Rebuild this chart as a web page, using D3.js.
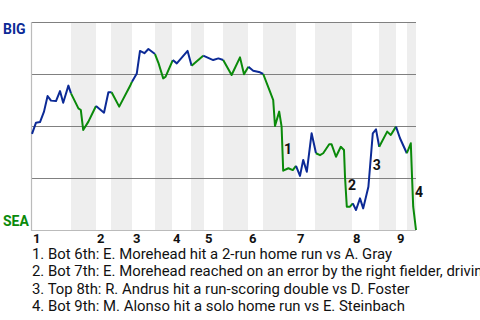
<!DOCTYPE html>
<html>
<head>
<meta charset="utf-8">
<script src="https://cdnjs.cloudflare.com/ajax/libs/d3/7.8.5/d3.min.js"></script>
<style>
  body { margin: 0; background: #fff; }
  svg { display: block; font-family: Roboto, sans-serif; }
</style>
</head>
<body>
<div id="chart"></div>
<script>
// play index (x) and BIG win probability in % (y)
var playX = [0, 1, 2, 3, 3.9, 4.75, 6, 7, 7.8, 9.1, 9.75, 11.6, 12.2, 12.8, 14.1, 16, 18, 19.1, 19.9,
    21.8, 24.5, 25, 26.2, 27, 28.1, 29.1, 30.75, 31.6, 32.8, 33.4, 35.2, 36.2, 38.9, 39.9, 42.8,
    45.3, 46.6, 47.8, 49.9, 52, 53, 54.1, 55.3, 57, 57.8, 59.5, 60.3, 60.75, 61.8, 62.4, 62.8,
    64.1, 65.2, 66, 67, 67.8, 68.7, 69.9, 71, 72, 72.8, 74.3, 74.9, 76, 77.2, 78, 78.25, 78.7,
    79.5, 80.2, 81, 82, 82.8, 84.1, 85.2, 86, 86.8, 88.8, 89.7, 91, 92, 93.7, 94.7, 95, 95.3, 96];
var winProb = [46.2, 51.6, 51.9, 56.9, 64.4, 62.2, 62, 66.8, 61.2, 69.4, 65.7, 58.5, 57.7, 48.1, 52.1, 59.6, 56.4, 66.2, 66.2,
    59.3, 69.2, 71.3, 75.3, 86.1, 85, 87, 84.6, 80.4, 72.9, 73.7, 81.7, 80.1, 86.1, 79, 83.8,
    81.7, 82.5, 81.7, 74.5, 83, 74.9, 78.5, 76.6, 75.8, 75, 66.5, 62.5, 50, 56.9, 49.7, 28.5,
    29.7, 28.8, 30.8, 26, 33.7, 28, 46.5, 36.9, 36, 36.9, 41.2, 41.2, 35.2, 40, 38.5, 25.6, 11.2,
    11.2, 12.8, 9.6, 15.2, 10.4, 20.8, 46.5, 48.4, 40, 47.3, 45.7, 49.7, 44.1, 36.9, 41.7, 26, 11.2, 0];

// start of each half inning (top 1, bot 1, top 2, ...) and end of game
var halfBounds = [0, 9.75, 16, 19.75, 25, 30.75, 35, 39.75, 43, 47.75, 54, 57.75, 66, 70.75, 80, 86.75, 91, 93.75, 96];
var innings = ["1", "2", "3", "4", "5", "6", "7", "8", "9"];
var probTicks = [25, 50, 75, 100];

var annoX = [63, 79, 85.2, 95.75];
var annoY = [38.9, 21.4, 31, 18.3];
var annoLabels = ["1", "2", "3", "4"];
var notes = [
    "1. Bot 6th: E. Morehead hit a 2-run home run vs A. Gray",
    "2. Bot 7th: E. Morehead reached on an error by the right fielder, driving in a run",
    "3. Top 8th: R. Andrus hit a run-scoring double vs D. Foster",
    "4. Bot 9th: M. Alonso hit a solo home run vs E. Steinbach"
];

var awayColor = "#0c2a96";
var homeColor = "#0a8a0a";

var width = 480, height = 320;
var svg = d3.select("#chart").append("svg")
    .attr("width", width)
    .attr("height", height);

var x = d3.scaleLinear().domain([0, 96]).range([32, 416]);
var y = d3.scaleLinear().domain([0, 100]).range([230, 22]);

// shaded bottom halves
for (var h = 1; h < halfBounds.length - 1; h += 2) {
    svg.append("rect")
        .attr("x", x(halfBounds[h]))
        .attr("y", y(100))
        .attr("width", x(halfBounds[h + 1]) - x(halfBounds[h]))
        .attr("height", y(0) - y(100))
        .style("fill", "#eeeeee");
}

// grid lines
svg.selectAll(".grid")
    .data(probTicks)
    .enter().append("line")
    .attr("x1", 31).attr("x2", x(96))
    .attr("y1", function(d) { return Math.round(y(d)) + 0.5; })
    .attr("y2", function(d) { return Math.round(y(d)) + 0.5; })
    .style("stroke", "#808080")
    .style("stroke-width", 1.2);

// left and bottom edges
svg.append("line")
    .attr("x1", 31.5).attr("x2", 31.5)
    .attr("y1", y(100)).attr("y2", y(0) + 1)
    .style("stroke", "#bbbbbb").style("stroke-width", 1.2);
svg.append("line")
    .attr("x1", 31).attr("x2", x(96))
    .attr("y1", y(0) + 0.5).attr("y2", y(0) + 0.5)
    .style("stroke", "#bbbbbb").style("stroke-width", 1.2);

// split the line into runs by which team is batting
var runs = [];
for (var i = 0; i < playX.length - 1; i++) {
    var mid = (playX[i] + playX[i + 1]) / 2;
    var half = d3.bisectRight(halfBounds, mid) - 1;
    var color = half % 2 === 0 ? awayColor : homeColor;
    var last = runs[runs.length - 1];
    if (last && last.color === color) {
        last.pts.push(i + 1);
    } else {
        runs.push({ color: color, pts: [i, i + 1] });
    }
}

var line = d3.line()
    .x(function(i) { return x(playX[i]); })
    .y(function(i) { return y(winProb[i]); });

runs.forEach(function(r) {
    svg.append("path")
        .attr("d", line(r.pts))
        .style("fill", "none")
        .style("stroke", r.color)
        .style("stroke-width", 2)
        .style("stroke-linejoin", "round");
});

// team labels
svg.append("text").text("BIG")
    .attr("x", 3).attr("y", 34)
    .style("font-size", "14px").style("font-weight", "bold")
    .style("fill", awayColor);
svg.append("text").text("SEA")
    .attr("x", 3).attr("y", 226)
    .style("font-size", "14px").style("font-weight", "bold")
    .style("fill", homeColor);

// inning numbers
svg.selectAll(".inning")
    .data(innings)
    .enter().append("text")
    .text(function(d) { return d; })
    .attr("x", function(d, i) { return x(halfBounds[i * 2]) + 1; })
    .attr("y", 242.5)
    .style("font-size", "13px").style("font-weight", "bold")
    .style("fill", "#111");

// event markers
svg.selectAll(".anno")
    .data(annoLabels)
    .enter().append("text")
    .text(function(d) { return d; })
    .attr("x", function(d, i) { return x(annoX[i]); })
    .attr("y", function(d, i) { return y(annoY[i]); })
    .attr("dy", "0.35em")
    .style("font-size", "14px").style("font-weight", "bold")
    .style("fill", "#111");

// notes below
svg.selectAll(".note")
    .data(notes)
    .enter().append("text")
    .text(function(d) { return d; })
    .attr("x", 32)
    .attr("y", function(d, i) { return 258.5 + i * 17.5; })
    .style("font-size", "14.9px")
    .style("fill", "#111");
</script>
</body>
</html>
